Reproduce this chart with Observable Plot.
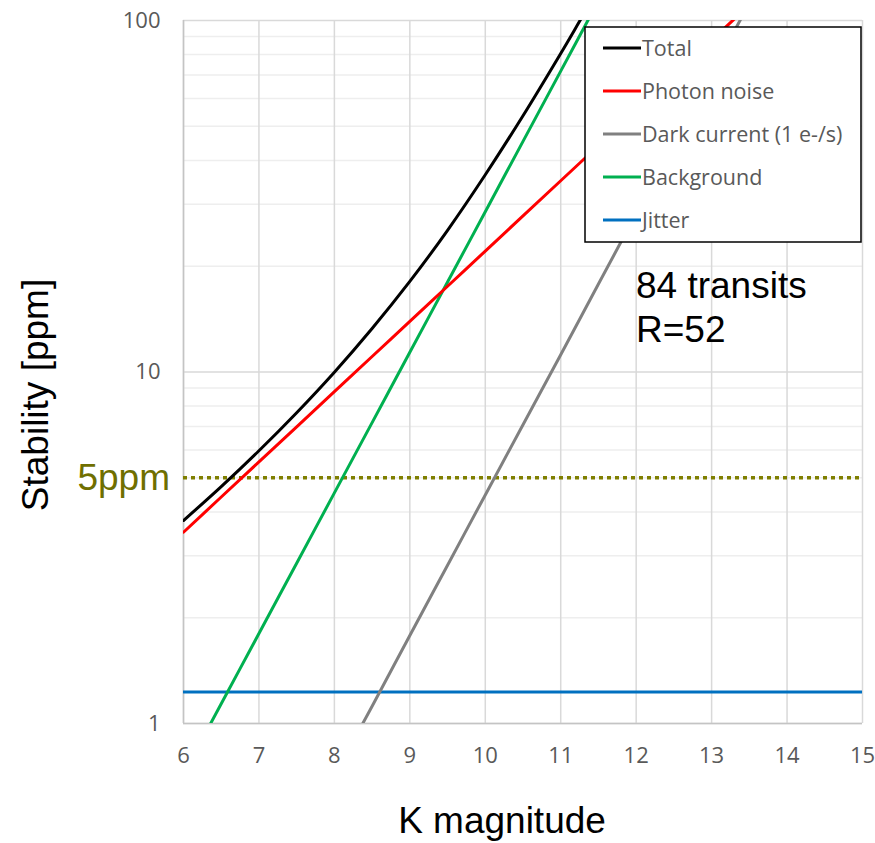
<!DOCTYPE html>
<html><head><meta charset="utf-8">
<script src="https://cdn.jsdelivr.net/npm/d3@7"></script>
<script src="https://cdn.jsdelivr.net/npm/@observablehq/plot@0.6"></script>
<style>html,body{margin:0;padding:0;background:#fff}</style>
</head><body><div id="chart"></div>
<script>
// ---- data ----
const xTicks = [6, 7, 8, 9, 10, 11, 12, 13, 14, 15];
const yTicks = [1, 10, 100];
const yMinor = [2, 3, 4, 5, 6, 7, 8, 9, 20, 30, 40, 50, 60, 70, 80, 90];
const threshold = [5];

const totalMag = [6, 6.5, 7, 7.5, 8, 8.5, 9, 9.5, 10, 10.5, 11, 11.25, 11.5];
const totalVal = [3.78, 4.72, 5.97, 7.66, 9.99, 13.3, 18.1, 25.3, 36.4, 53.6, 80.6, 99.5, 123];

const photonMag = [6, 6.5, 7, 7.5, 8, 8.5, 9, 9.5, 10, 10.5, 11, 11.5, 12, 12.5, 13, 13.5];
const photonVal = [3.50, 4.41, 5.55, 6.98, 8.79, 11.07, 13.93, 17.54, 22.08, 27.8, 35.0, 44.06, 55.47, 69.84, 87.9, 110.7];

const darkMag = [8, 8.5, 9, 9.5, 10, 10.5, 11, 11.5, 12, 12.5, 13, 13.5];
const darkVal = [0.71, 1.12, 1.78, 2.82, 4.47, 7.08, 11.2, 17.8, 28.2, 44.7, 70.8, 112];

const bgMag = [6, 6.5, 7, 7.5, 8, 8.5, 9, 9.5, 10, 10.5, 11, 11.5];
const bgVal = [0.718, 1.138, 1.803, 2.858, 4.529, 7.178, 11.38, 18.03, 28.58, 45.29, 71.78, 113.8];

const jitterMag = [6, 15];
const jitterVal = [1.23, 1.23];

const seriesNames = ["Total", "Photon noise", "Dark current (1 e-/s)", "Background", "Jitter"];
const seriesColors = ["#000000", "#ff0000", "#808080", "#00b050", "#0070c0"];
const seriesData = [[totalMag, totalVal], [photonMag, photonVal], [darkMag, darkVal], [bgMag, bgVal], [jitterMag, jitterVal]];
const drawOrder = [4, 2, 3, 1, 0];

const rowsFor = i => seriesData[i][0].map((m, k) => ({m, v: seriesData[i][1][k], series: seriesNames[i]}));

const small = "'Open Sans', Lato, sans-serif";
const chart = Plot.plot({
  width: 875, height: 843,
  marginLeft: 183, marginRight: 13, marginTop: 20, marginBottom: 120,
  style: {fontFamily: small, fontSize: "22px", color: "#595959", background: "#fff", overflow: "visible"},
  x: {domain: [6, 15], label: null},
  y: {type: "log", domain: [1, 100], label: null},
  marks: [
    Plot.ruleY(yMinor, {stroke: "#eeeeee", strokeWidth: 1.5}),
    Plot.ruleX(xTicks, {stroke: "#d9d9d9", strokeWidth: 1.5}),
    Plot.ruleY(yTicks, {stroke: "#d9d9d9", strokeWidth: 1.5}),
    Plot.ruleX([6], {stroke: "#c4c4c4", strokeWidth: 1.5}),
    Plot.ruleY([1], {stroke: "#c4c4c4", strokeWidth: 1.5}),
    Plot.axisX({ticks: xTicks, tickSize: 0, tickPadding: 24, fontSize: 22, tickFormat: d => String(d), fill: "#595959"}),
    Plot.axisY({ticks: yTicks, tickSize: 0, tickPadding: 23, fontSize: 22, tickFormat: d => String(d), fill: "#595959"}),
    Plot.ruleY(threshold, {stroke: "#7f7f00", strokeWidth: 3.5, strokeDasharray: "4,4"}),
    ...drawOrder.map(i => Plot.line(rowsFor(i), {x: "m", y: "v", stroke: seriesColors[i], strokeWidth: 3, curve: "catmull-rom", clip: true}))
  ]
});
document.getElementById("chart").appendChild(chart);

const svg = d3.select(chart);
svg.selectAll('g[aria-label$="tick label"]').attr("font-size", 22).style("font-size", "22px");
svg.selectAll('g[aria-label$="tick label"] text').attr("font-size", 22).style("font-size", "22px");

const big = "'Liberation Sans', Arial, sans-serif";
// axis titles
svg.append("text").attr("x", 502).attr("y", 833).attr("text-anchor", "middle")
  .attr("font-family", big).attr("font-size", 37).attr("fill", "#000").text("K magnitude");
svg.append("text").attr("transform", "translate(48,395) rotate(-90)").attr("text-anchor", "middle")
  .attr("font-family", big).attr("font-size", 37).attr("fill", "#000").text("Stability [ppm]");
// 5ppm label
svg.append("text").attr("x", 170).attr("y", 490).attr("text-anchor", "end")
  .attr("font-family", big).attr("font-size", 37).attr("fill", "#6f6f00").text("5ppm");
// annotation
svg.append("text").attr("x", 636).attr("y", 298).attr("text-anchor", "start")
  .attr("font-family", big).attr("font-size", 37).attr("fill", "#000").text("84 transits");
svg.append("text").attr("x", 636).attr("y", 342).attr("text-anchor", "start")
  .attr("font-family", big).attr("font-size", 37).attr("fill", "#000").text("R=52");
// legend
const lg = svg.append("g");
lg.append("rect").attr("x", 585).attr("y", 27).attr("width", 276).attr("height", 215)
  .attr("fill", "#fff").attr("stroke", "#000").attr("stroke-width", 1.5);
seriesNames.forEach((name, i) => {
  const yy = 48 + i * 43;
  lg.append("line").attr("x1", 603).attr("x2", 641).attr("y1", yy).attr("y2", yy)
    .attr("stroke", seriesColors[i]).attr("stroke-width", 3);
  lg.append("text").attr("x", 642).attr("y", yy).attr("dy", "0.36em").attr("text-anchor", "start")
    .attr("font-family", small).attr("font-size", 21.5).style("font-size", "21.5px").attr("fill", "#595959").text(name);
});
</script>
</body></html>
